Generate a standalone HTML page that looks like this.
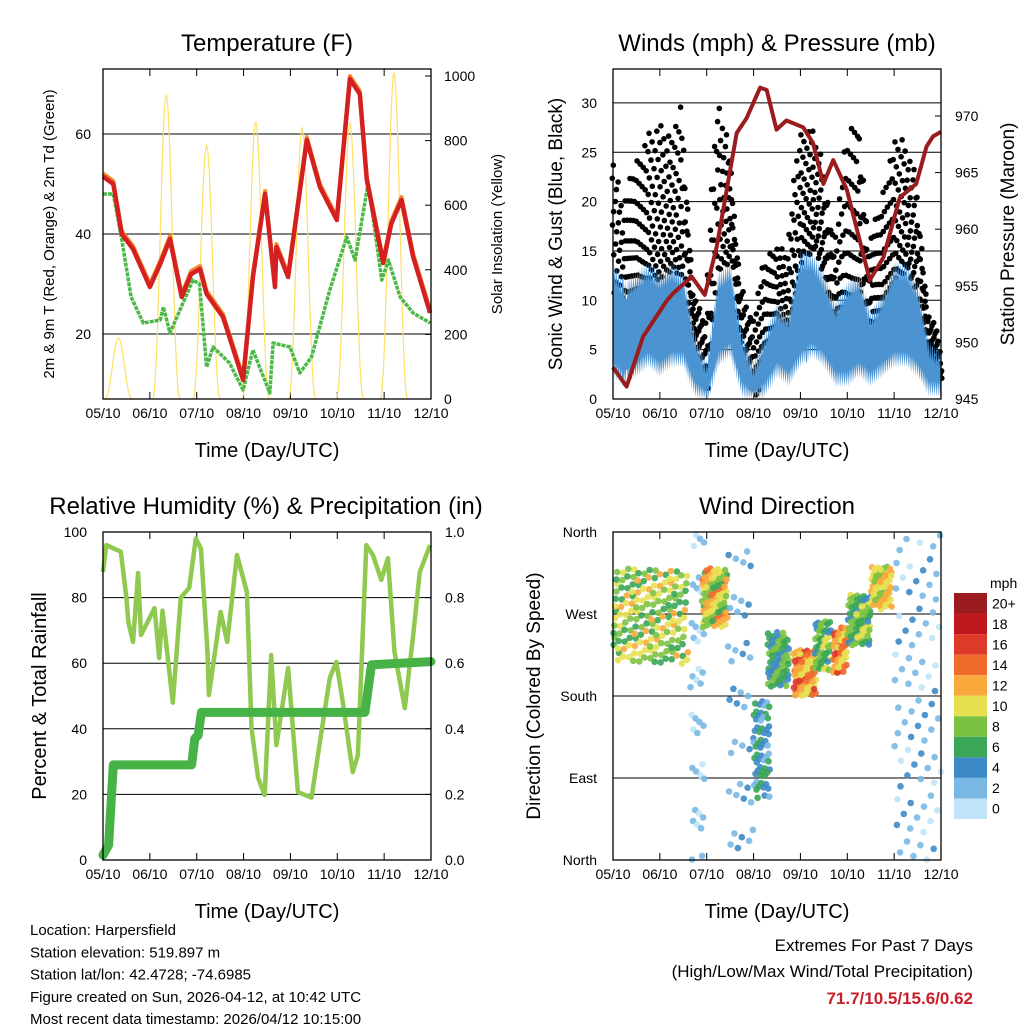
<!DOCTYPE html>
<html><head><meta charset="utf-8">
<style>
body{margin:0;background:#fff;}
svg{display:block;font-family:"Liberation Sans",sans-serif;}
</style></head>
<body>
<svg id="chart" width="1024" height="1024" viewBox="0 0 1024 1024" xmlns="http://www.w3.org/2000/svg"></svg>
<script>
// ---------- DATA ----------
const xTickLabels = ["05/10","06/10","07/10","08/10","09/10","10/10","11/10","12/10"];
// Temperature (F)
const tempDays = [0,0.22,0.4,0.64,1.0,1.22,1.43,1.68,1.88,2.07,2.21,2.56,2.99,3.2,3.46,3.67,3.7,3.95,4.35,4.63,4.99,5.27,5.48,5.63,5.98,6.15,6.37,6.62,6.98];
const tempVals = [51.5,50,40,37,29.4,34,39,27.4,32,33,28,23.4,10.8,31.4,48,29.4,37.4,31.4,58.8,49.4,42.8,71,68,50.8,34.2,42,46.8,35.4,24.2];
const dewDays = [0,0.22,0.4,0.6,0.86,1.22,1.29,1.43,1.92,2.06,2.21,2.35,2.7,2.99,3.2,3.56,3.63,3.99,4.2,4.45,4.84,5.2,5.38,5.66,5.95,6.09,6.34,6.62,6.98];
const dewVals = [48,48,39,27.4,22.2,22.8,25.4,20.2,30.8,30,13.4,17.4,14.2,8.8,16.8,8.2,18.2,17.4,12.2,15.4,28.8,39.4,34.8,50.2,30.8,34.8,27.4,24.2,22.2];
const solarNoon = [0.33,1.35,2.21,3.26,4.25,5.27,6.21];
const solarPeak = [189,940,786,857,839,854,1009];
const tempTicks = [20,40,60];
const solarTicks = [0,200,400,600,800,1000];
// Winds
const windDays = [0,0.25,0.5,0.75,1,1.25,1.5,1.75,2,2.25,2.5,2.75,3,3.25,3.5,3.75,4,4.25,4.5,4.75,5,5.25,5.5,5.75,6,6.25,6.5,6.75,7];
const windLo = [3,2,3,4,3,4,4,1,0,4,5,1,0,1,3,2,4,5,4,2,2,3,2,3,4,4,3,1,1];
const windHi = [13,11,12,13,12,13,12,6,3,12,13,6,3,6,9,8,14,14,12,9,11,12,8,10,13,13,11,5,4];
const gustLo = [8,7,10,12,12,13,12,4,1,13,14,3,0,3,6,6,14,15,12,7,8,11,6,8,12,13,10,3,2];
const gustHi = [26,20,24,27,28,27,30,11,8,31,27,12,8,14,16,15,27,28,25,16,26,30,16,20,26,27,23,9,7];
const presDays = [0,0.29,0.64,1.15,1.3,1.68,1.96,2.21,2.64,2.85,3.14,3.28,3.49,3.7,4.06,4.27,4.49,4.7,4.99,5.48,5.77,6.12,6.47,6.69,6.83,7];
const presVals = [947.8,946.1,950.5,953.7,954.4,955.8,954.2,958.4,968.5,969.8,972.5,972.3,968.8,969.6,969,967.6,964,966.1,963.5,955.5,957.5,962.8,964,967.3,968.2,968.6];
const windTicks = [0,5,10,15,20,25,30];
const presTicks = [945,950,955,960,965,970];
// RH & precip
const rhDays = [0,0.07,0.38,0.5,0.54,0.64,0.75,0.81,1.1,1.2,1.27,1.49,1.66,1.84,1.98,2.09,2.23,2.26,2.51,2.65,2.86,3.07,3.17,3.31,3.45,3.59,3.7,3.95,4.16,4.45,4.66,4.84,4.98,5.12,5.33,5.44,5.62,5.76,5.94,6.08,6.22,6.44,6.62,6.76,6.98];
const rhVals = [87.8,96,94,80,72.6,66.5,87.5,68.6,76.8,61.6,76,48,80,83,98,95,63.4,50.3,75.6,66.5,93,81.7,40.2,25,19.8,62.5,35,58.5,20.7,19,39,55.5,60.4,48,26.8,32,96,93,85.4,92,63.4,46.3,68.6,87.8,96];
const rainDays = [0,0.12,0.22,1.89,1.96,2.03,2.1,5.59,5.73,7];
const rainVals = [0.015,0.045,0.29,0.29,0.37,0.38,0.45,0.45,0.595,0.605];
const rhTicks = [0,20,40,60,80,100];
const rainTicks = ["0.0","0.2","0.4","0.6","0.8","1.0"];
// Wind direction clusters
const dirStart = [0,1.65,1.9,2.45,3.0,3.3,3.85,4.3,4.7,5.0,5.5,6.0];
const dirEnd   = [1.6,1.95,2.45,3.0,3.35,3.75,4.35,4.65,5.0,5.5,5.95,7.0];
const dirLo    = [215,0,255,0,68,190,180,205,205,235,275,0];
const dirHi    = [320,360,320,360,175,250,232,262,255,292,322,360];
const dirSpdLo = [5,0,6,1,2,3,9,4,9,4,8,0];
const dirSpdHi = [12,3,14,4,7,9,16,10,16,10,13,4];
const dirCount = [170,40,90,40,60,70,70,50,50,70,60,80];
const dirLabels = ["North","East","South","West","North"];
const cbLabels = ["20+","18","16","14","12","10","8","6","4","2","0"];
const cbColors = ["#9b1b1e","#c0181f","#de3a2a","#f06a2c","#f9a93c","#e6e050","#7cc242","#3aa657","#3d89c6","#79b8e4","#bfe4f7"];

// ---------- DRAW ----------
const svg = document.getElementById('chart');
const NS = "http://www.w3.org/2000/svg";
function mk(tag, attrs, parent){const e=document.createElementNS(NS,tag);for(const k in attrs)e.setAttribute(k,attrs[k]);(parent||svg).appendChild(e);return e;}
function txt(s, attrs, parent){const e=mk('text',attrs,parent);e.textContent=s;return e;}

const P = {
 temp:{x0:103,x1:431,y0:69,y1:399},
 wind:{x0:613,x1:941,y0:69,y1:399},
 rh:{x0:103,x1:431,y0:532,y1:860},
 dir:{x0:613,x1:941,y0:532,y1:860}
};
function sx(p,d){return p.x0+(p.x1-p.x0)*d/7;}
function lin(v,a,b,p){return p.y1-(v-a)/(b-a)*(p.y1-p.y0);}

function frame(p,name,title,titleX){
  const g=mk('g',{});
  
  
  const t=txt(title,{x:titleX,y:p.y0-18,'text-anchor':'middle','font-size':24,fill:'#000'},g);
  
  
  const xt=txt("Time (Day/UTC)",{x:(p.x0+p.x1)/2,y:p.y1+58,'text-anchor':'middle','font-size':20},g);
  
  
  for(let i=0;i<8;i++){
    const x=sx(p,i);
    mk('line',{x1:x,x2:x,y1:p.y1,y2:p.y1-7,stroke:'#000','stroke-width':1},g);
    mk('line',{x1:x,x2:x,y1:p.y0,y2:p.y0+7,stroke:'#000','stroke-width':1},g);
    const l=txt(xTickLabels[i],{x:x,y:p.y1+19,'text-anchor':'middle','font-size':14},g);
    
    
  }
  return g;
}
function border(p){const r=mk('rect',{x:p.x0,y:p.y0,width:p.x1-p.x0,height:p.y1-p.y0,fill:'none',stroke:'#000','stroke-width':1.3});}
function grid(p,y){mk('line',{x1:p.x0,x2:p.x1,y1:y,y2:y,stroke:'#000','stroke-width':1});}
function pathFrom(p,days,vals,yf){return days.map((d,i)=>(i?'L':'M')+sx(p,d).toFixed(1)+','+yf(vals[i]).toFixed(1)).join(' ');}
function interp(days,vals,d){for(let i=1;i<days.length;i++){if(d<=days[i]){const t=(d-days[i-1])/(days[i]-days[i-1]);return vals[i-1]+t*(vals[i]-vals[i-1]);}}return vals[vals.length-1];}

// ===== Panel 1: Temperature =====
{
 const p=P.temp;
 frame(p,'temperature','Temperature (F)',267);
 const ty=v=>lin(v,7,73,p);
 const sy=v=>lin(v,0,1000,{y0:76,y1:399});
 tempTicks.forEach(v=>{grid(p,ty(v));const l=txt(v,{x:p.x0-12,y:ty(v)+5,'text-anchor':'end','font-size':14});});
 solarTicks.forEach(v=>{mk('line',{x1:p.x1,x2:p.x1-6,y1:sy(v),y2:sy(v),stroke:'#000'});const l=txt(v,{x:p.x1+13,y:sy(v)+5,'font-size':14});});
 // solar
 let sd='';
 solarNoon.forEach((n,i)=>{
   const pts=[];for(let k=-20;k<=20;k++){const d=n+k*0.3/20;const f=Math.cos(k/20*Math.PI/2);pts.push((k===-20?'M':'L')+sx(p,d).toFixed(1)+','+sy(solarPeak[i]*Math.pow(Math.max(f,0),2.5)).toFixed(1));}
   sd+=pts.join(' ');
 });
 const sp=mk('path',{d:sd,fill:'none',stroke:'#ffe066','stroke-width':1.2});
 
 
 const dp=mk('path',{d:pathFrom(p,dewDays,dewVals,ty),fill:'none',stroke:'#4cb847','stroke-width':3.5,'stroke-dasharray':'4 1','stroke-linejoin':'round'});
 
 
 const op=mk('path',{d:pathFrom(p,tempDays,tempVals.map(v=>v+0.6),ty),fill:'none',stroke:'#f08a30','stroke-width':4,'stroke-linejoin':'round'});
 
 
 const rp=mk('path',{d:pathFrom(p,tempDays,tempVals,ty),fill:'none',stroke:'#d42020','stroke-width':4.5,'stroke-linejoin':'round'});
 
 
 border(p);
 const a=txt('2m & 9m T (Red, Orange) & 2m Td (Green)',{transform:'translate(54,234) rotate(-90)','text-anchor':'middle','font-size':15});
 
 const b=txt('Solar Insolation (Yellow)',{transform:'translate(502,234) rotate(-90)','text-anchor':'middle','font-size':15});
 
}

// ===== Panel 2: Winds =====
{
 const p=P.wind;
 frame(p,'winds','Winds (mph) & Pressure (mb)',777);
 const wy=v=>p.y1-v*9.87;
 const py=v=>116+(970-v)*11.32;
 windTicks.forEach(v=>{grid(p,wy(v));const l=txt(v,{x:p.x0-16,y:wy(v)+5,'text-anchor':'end','font-size':14});});
 presTicks.forEach(v=>{mk('line',{x1:p.x1,x2:p.x1-6,y1:py(v),y2:py(v),stroke:'#000'});const l=txt(v,{x:p.x1+14,y:py(v)+5,'font-size':14});});
 // gust dots
 const gg=mk('g',{fill:'#000'});
 
 
 let n=0;
 for(let d=0;d<=7;d+=0.015){
   const lo=interp(windDays,gustLo,d),hi=interp(windDays,gustHi,d);
   for(let k=0;k<2;k++){n++;const f=(n*0.618034)%1;const v=lo+(hi-lo)*Math.pow(f,1.3);
     const jx=((n*0.381966)%1-0.5)*4;
     mk('circle',{cx:(sx(p,d)+jx).toFixed(1),cy:wy(v).toFixed(1),r:2.8},gg);}
 }
 // sustained band
 let top=[],bot=[];
 for(let d=0;d<=7.001;d+=0.02){
   const lo=interp(windDays,windLo,d),hi=interp(windDays,windHi,d);
   const j=((d*50)%2<1)?1:-1;
   top.push(sx(p,d).toFixed(1)+','+wy(hi+j).toFixed(1));
   bot.unshift(sx(p,d).toFixed(1)+','+wy(Math.max(lo-j*0.8,0)).toFixed(1));
 }
 const band=mk('polygon',{points:top.concat(bot).join(' '),fill:'#4b93d1'});
 
 
 const pp=mk('path',{d:pathFrom(p,presDays,presVals,py),fill:'none',stroke:'#9b1c1c','stroke-width':4,'stroke-linejoin':'round'});
 
 
 border(p);
 const a=txt('Sonic Wind & Gust (Blue, Black)',{transform:'translate(562,234) rotate(-90)','text-anchor':'middle','font-size':19});
 
 const b=txt('Station Pressure (Maroon)',{transform:'translate(1014,234) rotate(-90)','text-anchor':'middle','font-size':19});
 
}

// ===== Panel 3: RH =====
{
 const p=P.rh;
 frame(p,'humidity','Relative Humidity (%) & Precipitation (in)',266);
 const ry=v=>lin(v,0,100,p);
 rhTicks.forEach(v=>{grid(p,ry(v));const l=txt(v,{x:p.x0-16,y:ry(v)+5,'text-anchor':'end','font-size':14});});
 rainTicks.forEach((s,i)=>{const y=ry(i*20);mk('line',{x1:p.x1,x2:p.x1-6,y1:y,y2:y,stroke:'#000'});const l=txt(s,{x:p.x1+14,y:y+5,'font-size':14});});
 const rh=mk('path',{d:pathFrom(p,rhDays,rhVals,ry),fill:'none',stroke:'#8fc94f','stroke-width':4.5,'stroke-linejoin':'round'});
 
 
 const rn=mk('path',{d:pathFrom(p,rainDays,rainVals,v=>ry(v*100)),fill:'none',stroke:'#47b347','stroke-width':9,'stroke-linejoin':'round','stroke-linecap':'round'});
 
 
 border(p);
 const a=txt('Percent & Total Rainfall',{transform:'translate(46,696) rotate(-90)','text-anchor':'middle','font-size':20});
 
}

// ===== Panel 4: Wind Direction =====
{
 const p=P.dir;
 frame(p,'wind-direction','Wind Direction',777);
 const dy=v=>lin(v,0,360,p);
 dirLabels.forEach((s,i)=>{const y=dy(i*90);if(i>0&&i<4)grid(p,y);const l=txt(s,{x:p.x0-16,y:y+5,'text-anchor':'end','font-size':14});});
 function spdColor(s){let b=Math.round(s/2);if(b>10)b=10;if(b<0)b=0;return cbColors[10-b];}
 const dg=mk('g',{});
 
 
 let m=0;
 dirStart.forEach((s,i)=>{
   for(let k=0;k<dirCount[i];k++){m++;
     const fx=(m*0.7548776)%1, fy=(m*0.5698403)%1, fs=(m*0.381966)%1;
     const d=s+(dirEnd[i]-s)*fx;
     const v=dirLo[i]+(dirHi[i]-dirLo[i])*fy;
     const sp=dirSpdLo[i]+(dirSpdHi[i]-dirSpdLo[i])*fs;
     mk('circle',{cx:sx(p,d).toFixed(1),cy:dy(v).toFixed(1),r:3.3,fill:spdColor(sp),'fill-opacity':0.9},dg);
   }
 });
 border(p);
 const a=txt('Direction (Colored By Speed)',{transform:'translate(540,696) rotate(-90)','text-anchor':'middle','font-size':19});
 
 // colorbar
 const cb=mk('g',{});
 
 
 txt('mph',{x:990,y:588,'font-size':14},cb);
 const h=226/11;
 cbLabels.forEach((s,i)=>{
   mk('rect',{x:954,y:593+i*h,width:33,height:h,fill:cbColors[i]},cb);
   const l=txt(s,{x:992,y:593+i*h+h/2+5,'font-size':14},cb);
   
   
 });
}

// ===== Footer text =====
{
 const lines=["Location: Harpersfield","Station elevation: 519.897 m","Station lat/lon: 42.4728; -74.6985","Figure created on Sun, 2026-04-12, at 10:42 UTC","Most recent data timestamp: 2026/04/12 10:15:00"];
 lines.forEach((s,i)=>{const t=txt(s,{x:30,y:935+i*22.3,'font-size':15});});
 const e1=txt('Extremes For Past 7 Days',{x:973,y:951,'text-anchor':'end','font-size':17});
 
 const e2=txt('(High/Low/Max Wind/Total Precipitation)',{x:973,y:977,'text-anchor':'end','font-size':17});
 
 const e3=txt('71.7/10.5/15.6/0.62',{x:973,y:1004,'text-anchor':'end','font-size':17,'font-weight':'bold',fill:'#c8202a'});
 
}
</script>
</body></html>
